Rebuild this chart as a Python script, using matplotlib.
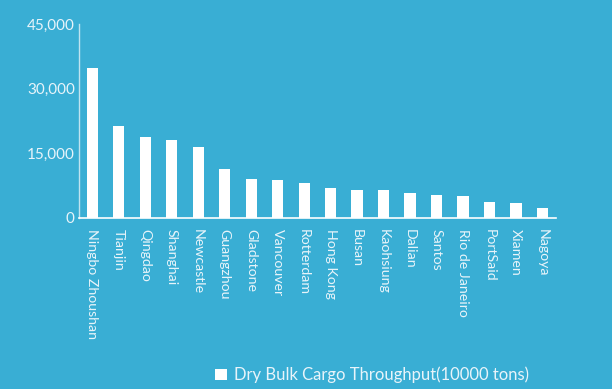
import numpy as np
import matplotlib.pyplot as plt
from matplotlib.patches import Patch

ports = ['Ningbo Zhoushan', 'Tianjin', 'Qingdao', 'Shanghai', 'Newcastle',
         'Guangzhou', 'Gladstone', 'Vancouver', 'Rotterdam', 'Hong Kong',
         'Busan', 'Kaohsiung', 'Dalian', 'Santos', 'Rio de Janeiro',
         'PortSaid', 'Xiamen', 'Nagoya']
throughput = [34700, 21400, 18700, 18000, 16400, 11300, 9000, 8800, 8100,
              6900, 6500, 6500, 5800, 5300, 5100, 3700, 3400, 2300]
yticks = [0, 15000, 30000, 45000]

bg = '#39aed4'
plt.rcParams['font.family'] = ['Lato', 'DejaVu Sans']

fig = plt.figure(figsize=(6.12, 3.89), dpi=100, facecolor=bg)
ax = fig.add_axes([0.129, 0.44, 0.779, 0.498], facecolor=bg)

x = np.arange(len(ports))
ax.bar(x, throughput, width=0.42, color='white')

ax.set_xlim(-0.5, len(ports) - 0.5)
ax.set_ylim(0, 45000)
ax.set_yticks(yticks)
ax.set_yticklabels([f'{v:,}' for v in yticks], fontsize=11)
ax.set_xticks(x)
ax.set_xticklabels(ports, rotation=-90, fontsize=10.2)
ax.tick_params(axis='both', length=0, colors='#e8f4fa')
ax.tick_params(axis='x', pad=8)
ax.tick_params(axis='y', pad=3)

for s in ['top', 'right']:
    ax.spines[s].set_visible(False)
ax.spines['left'].set_color('#bfe3f0')
ax.spines['left'].set_linewidth(1)
ax.spines['bottom'].set_color('white')
ax.spines['bottom'].set_linewidth(1.2)

handle = Patch(facecolor='white', edgecolor='none')
fig.legend([handle], ['Dry Bulk Cargo Throughput(10000 tons)'],
           loc='center', bbox_to_anchor=(0.608, 0.036), frameon=False,
           labelcolor='#e8f4fa', fontsize=12, handlelength=0.7,
           handleheight=0.7, handletextpad=0.4)

fig.savefig('out.png', dpi=100, facecolor=bg)
